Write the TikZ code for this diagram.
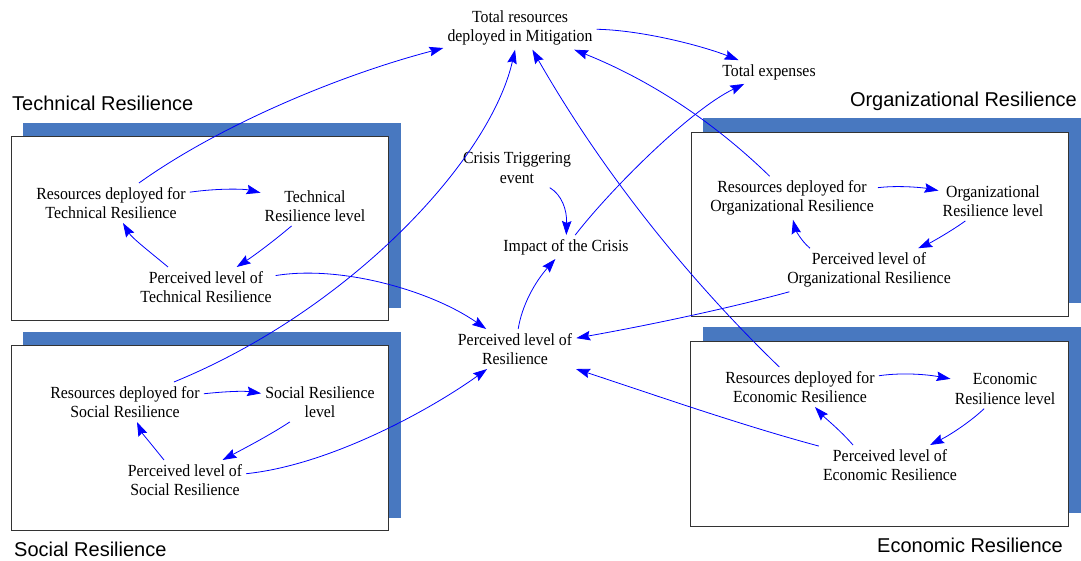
\documentclass[tikz,border=0pt]{standalone}
\usepackage{fontspec}
\setmainfont{Liberation Serif}[FakeStretch=0.93]
\newfontfamily\titlefont{Liberation Sans}
\usetikzlibrary{arrows.meta}
\definecolor{shadowblue}{RGB}{72,120,192}
\definecolor{arrowblue}{RGB}{0,0,255}
\tikzset{
  var/.style={align=center, font=\fontsize{17}{19.5}\selectfont, inner sep=4pt},
  link/.style={draw=arrowblue, line width=0.8pt, -{Stealth[length=14pt,width=9.5pt,inset=2pt]}},
  panel/.style={draw=black!80, fill=white, line width=0.8pt},
  shade/.style={fill=shadowblue},
  paneltitle/.style={font=\titlefont\fontsize{20}{24}\selectfont, inner sep=0pt}
}
\begin{document}
\begin{tikzpicture}[x=1pt,y=-1pt]
\useasboundingbox (0,0) rectangle (1081,560);
% panels
\fill[shade] (23,123) rectangle (401,308);
\draw[panel] (11,136) rectangle (388,320);
\fill[shade] (23,332) rectangle (401,518);
\draw[panel] (11,345) rectangle (388,530);
\fill[shade] (703,118) rectangle (1081,303);
\draw[panel] (691,132) rectangle (1068,316);
\fill[shade] (703,327) rectangle (1081,513);
\draw[panel] (690,341) rectangle (1068,526);
% titles
\node[paneltitle, anchor=base west] (ttech) at (12,110) {Technical Resilience};
\node[paneltitle, anchor=base east] (torg) at (1077,106) {Organizational Resilience};
\node[paneltitle, anchor=base west] (tsoc) at (14,556) {Social Resilience};
\node[paneltitle, anchor=base west] (tecon) at (877,552) {Economic Resilience};
% central variables
\node[var] (totalres) at (520,28) {Total resources\\deployed in Mitigation};
\node[var] (totalexp) at (769,72) {Total expenses};
\node[var] (crisis) at (517,168) {Crisis Triggering\\event};
\node[var] (impact) at (566,247) {Impact of the Crisis};
\node[var] (percres) at (515,349) {Perceived level of\\Resilience};
% technical
\node[var] (techres) at (111,203) {Resources deployed for\\Technical Resilience};
\node[var] (techlevel) at (315,206) {Technical\\Resilience level};
\node[var] (perctech) at (206,287) {Perceived level of\\Technical Resilience};
% organizational
\node[var] (orgres) at (792,198) {Resources deployed for\\Organizational Resilience};
\node[var] (orglevel) at (993,201) {Organizational\\Resilience level};
\node[var] (percorg) at (869,270) {Perceived level of\\Organizational Resilience};
% economic
\node[var] (econres) at (800,387) {Resources deployed for\\Economic Resilience};
\node[var] (econlevel) at (1005,389) {Economic\\Resilience level};
\node[var] (percecon) at (890,465) {Perceived level of\\Economic Resilience};
% social
\node[var] (socres) at (125,402) {Resources deployed for\\Social Resilience};
\node[var] (soclevel) at (320,402) {Social Resilience\\level};
\node[var] (percsoc) at (185,480) {Perceived level of\\Social Resilience};
% links to the centre
\draw[link] (techres) .. controls (220,125) and (340,75) .. (totalres);
\draw[link] (socres) .. controls (350,310) and (490,160) .. (totalres);
\draw[link] (econres) .. controls (682,273) and (599,166) .. (totalres);
\draw[link] (orgres) .. controls (714,122) and (650,80) .. (totalres);
\draw[link] (totalres) .. controls (640,30) and (700,45) .. (totalexp);
\draw[link] (impact) .. controls (610,190) and (690,110) .. (totalexp);
\draw[link] (crisis) .. controls (562,195) and (567,210) .. (impact);
\draw[link] (percres) .. controls (522,305) and (535,282) .. (impact);
\draw[link] (perctech) .. controls (340,265) and (430,290) .. (percres);
\draw[link] (percorg) .. controls (730,308) and (650,325) .. (percres);
\draw[link] (percecon) .. controls (740,425) and (640,390) .. (percres);
\draw[link] (percsoc) .. controls (330,465) and (430,410) .. (percres);
% technical loop
\draw[link] (techres) .. controls (220,188) and (245,189) .. (techlevel);
\draw[link] (techlevel) .. controls (275,240) and (255,255) .. (perctech);
\draw[link] ([xshift=-38pt]perctech.north) .. controls (150,252) and (132,238) .. ([xshift=12pt]techres.south);
% organizational loop
\draw[link] (orgres) .. controls (900,185) and (925,188) .. (orglevel);
\draw[link] (orglevel) .. controls (950,232) and (930,243) .. (percorg);
\draw[link] ([xshift=-59pt]percorg.north) .. controls (800,240) and (795,228) .. ([xshift=1pt]orgres.south);
% economic loop
\draw[link] (econres) .. controls (905,372) and (930,375) .. (econlevel);
\draw[link] (econlevel) .. controls (970,422) and (950,435) .. (percecon);
\draw[link] ([xshift=-37pt]percecon.north) .. controls (840,430) and (825,418) .. ([xshift=15pt]econres.south);
% social loop
\draw[link] (socres) .. controls (230,391) and (245,391) .. (soclevel);
\draw[link] (soclevel) .. controls (270,435) and (245,448) .. (percsoc);
\draw[link] ([xshift=-21pt]percsoc.north) .. controls (152,445) and (142,433) .. ([xshift=12pt]socres.south);
\end{tikzpicture}
\end{document}
